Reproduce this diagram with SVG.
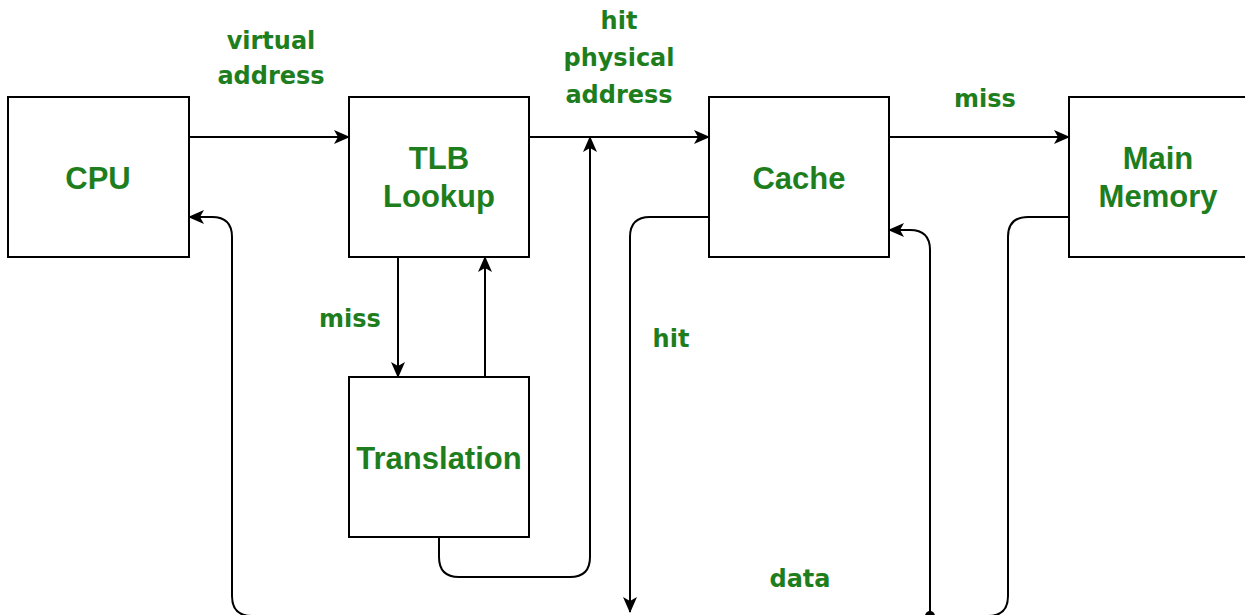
<svg xmlns="http://www.w3.org/2000/svg" width="1245" height="615" viewBox="0 0 1245 615">
  <style>
    .box { fill: #ffffff; stroke: #000000; stroke-width: 2; }
    .node-label { font-family: "Liberation Sans", Arial, sans-serif; font-weight: bold; font-size: 31px; fill: #1e7e1e; text-anchor: middle; }
    .edge-label { font-family: "DejaVu Sans", Verdana, sans-serif; font-weight: bold; font-size: 24px; fill: #1e7e1e; text-anchor: middle; }
    .wire { fill: none; stroke: #000000; stroke-width: 2; }
    .arrow { marker-end: url(#head); }
  </style>
  <defs>
    <marker id="head" viewBox="0 0 16 14" refX="15" refY="7" markerWidth="16" markerHeight="14" markerUnits="userSpaceOnUse" orient="auto">
      <path d="M0,0 L16,7 L0,14 L4,7 Z" fill="#000000"/>
    </marker>
  </defs>

  <rect width="1245" height="615" fill="#ffffff"/>

  <!-- connectors -->
  <g id="connectors">
    <path class="wire arrow" d="M189 137 H349"/>
    <path class="wire arrow" d="M529 137 H709"/>
    <path class="wire arrow" d="M889 137 H1069"/>
    <path class="wire arrow" d="M398 257 V377"/>
    <path class="wire arrow" d="M485 377 V257"/>
    <path class="wire arrow" d="M439 537 V557 Q439 577 459 577 H570 Q590 577 590 557 V137"/>
    <path class="wire arrow" d="M709 217 H650 Q630 217 630 237 V612"/>
    <path class="wire arrow" d="M1069 217 H1028 Q1008 217 1008 237 V596 Q1008 616 988 616 H252 Q232 616 232 596 V237 Q232 217 212 217 H189"/>
    <path class="wire arrow" d="M930 616 V250 Q930 230 910 230 H889"/>
    <circle cx="930" cy="616" r="5" fill="#000000"/>
  </g>

  <!-- edge labels -->
  <g id="edge-labels">
    <text class="edge-label" x="271" y="49">virtual</text>
    <text class="edge-label" x="271" y="84">address</text>
    <text class="edge-label" x="619" y="29">hit</text>
    <text class="edge-label" x="619" y="66">physical</text>
    <text class="edge-label" x="619" y="103">address</text>
    <text class="edge-label" x="985" y="107">miss</text>
    <text class="edge-label" x="350" y="327">miss</text>
    <text class="edge-label" x="671" y="347">hit</text>
    <text class="edge-label" x="800" y="587">data</text>
  </g>

  <g id="cpu">
    <rect class="box" x="8" y="97" width="181" height="160"/>
    <text class="node-label" x="98" y="189">CPU</text>
  </g>

  <g id="tlb">
    <rect class="box" x="349" y="97" width="180" height="160"/>
    <text class="node-label" x="439" y="169">TLB</text>
    <text class="node-label" x="439" y="207">Lookup</text>
  </g>

  <g id="cache">
    <rect class="box" x="709" y="97" width="180" height="160"/>
    <text class="node-label" x="799" y="189">Cache</text>
  </g>

  <g id="main-memory">
    <rect class="box" x="1069" y="97" width="180" height="160"/>
    <text class="node-label" x="1158" y="169">Main</text>
    <text class="node-label" x="1158" y="207">Memory</text>
  </g>

  <g id="translation">
    <rect class="box" x="349" y="377" width="180" height="160"/>
    <text class="node-label" x="439" y="469">Translation</text>
  </g>
</svg>
